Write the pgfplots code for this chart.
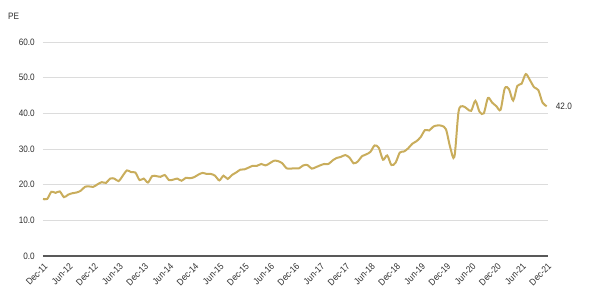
\documentclass[border=0pt]{standalone}
\usepackage{fontspec}
\setmainfont{Liberation Sans}[FakeStretch=0.88]
\usepackage{pgfplots}
\pgfplotsset{compat=1.18}
\definecolor{gold}{RGB}{201,173,92}
\definecolor{gridc}{RGB}{220,220,220}
\definecolor{axc}{RGB}{89,89,89}
\definecolor{txt}{RGB}{45,45,45}
\pgfplotstableread{
m v
0 16.0
1 16.0
2 18.0
3 17.7
4 18.1
5 16.5
6 17.2
7 17.6
8 17.8
9 18.3
10 19.4
11 19.5
12 19.4
13 20.1
14 20.7
15 20.5
16 21.7
17 21.7
18 21.0
19 22.5
20 24.0
21 23.5
22 23.4
23 21.3
24 21.7
25 20.6
26 22.4
27 22.4
28 22.2
29 22.7
30 21.3
31 21.4
32 21.7
33 21.1
34 21.9
35 21.8
36 22.1
37 22.8
38 23.3
39 23.0
40 23.0
41 22.5
42 21.2
43 22.5
44 21.6
45 22.7
46 23.4
47 24.2
48 24.3
49 24.8
50 25.3
51 25.3
52 25.8
53 25.4
54 26.0
55 26.7
56 26.6
57 26.0
58 24.6
59 24.5
60 24.6
61 24.6
62 25.4
63 25.5
64 24.5
65 24.9
66 25.4
67 25.8
68 25.8
69 26.8
70 27.5
71 27.8
72 28.3
73 27.6
74 26.0
75 26.5
76 28.0
77 28.5
78 29.2
79 31.0
80 30.3
81 27.0
82 28.2
83 25.5
84 26.2
85 29.0
86 29.3
87 30.2
88 31.5
89 32.2
90 33.4
91 35.3
92 35.2
93 36.3
94 36.6
95 36.5
96 35.5
97 30.5
98 27.8
99 40.5
100 42.0
101 41.3
102 40.7
103 43.5
104 40.4
105 40.0
106 44.3
107 43.0
108 42.0
109 41.0
110 47.0
111 46.8
112 43.6
113 47.7
114 48.3
115 51.0
116 49.3
117 47.3
118 46.5
119 43.0
120 42.0
}\pedata
\begin{document}
\begin{tikzpicture}[x=1pt,y=1pt]
\path[use as bounding box] (0,0) rectangle (600,296);
\node[anchor=west, text=txt, font=\fontsize{9.3}{11}\selectfont, inner sep=0pt] at (8,279.5) {PE};
\begin{axis}[
  at={(43pt,40pt)}, anchor=south west,
  scale only axis, width=505pt, height=214pt,
  xmin=0, xmax=120.3, ymin=0, ymax=60,
  clip=false,
  separate axis lines,
  axis x line*=bottom, axis y line*=left,
  y axis line style={draw=none},
  x axis line style={draw=axc, line width=1.3pt, -},
  major tick length=0pt,
  ytick={0,10,...,60},
  xtick={0,6,...,120},
  xticklabels={Dec-11,Jun-12,Dec-12,Jun-13,Dec-13,Jun-14,Dec-14,Jun-15,Dec-15,Jun-16,Dec-16,Jun-17,Dec-17,Jun-18,Dec-18,Jun-19,Dec-19,Jun-20,Dec-20,Jun-21,Dec-21},
  ymajorgrids,
  grid style={gridc, line width=0.9pt},
  every tick label/.append style={font=\fontsize{9.3}{11}\selectfont, text=txt},
  yticklabel style={anchor=east, inner sep=0pt, xshift=-8pt},
  xticklabel style={xshift=3pt, yshift=-9pt, rotate=45, anchor=east, inner sep=0pt},
  /pgf/number format/.cd, fixed, fixed zerofill, precision=1, assume math mode=true,
]
\addplot[gold, line width=2pt, smooth, tension=0.5] table[x=m, y=v] {\pedata};
\node[anchor=west, text=txt, font=\fontsize{9.3}{11}\selectfont, inner sep=0pt] at (axis cs:120,42) [xshift=9pt] {42.0};
\end{axis}
\end{tikzpicture}
\end{document}
